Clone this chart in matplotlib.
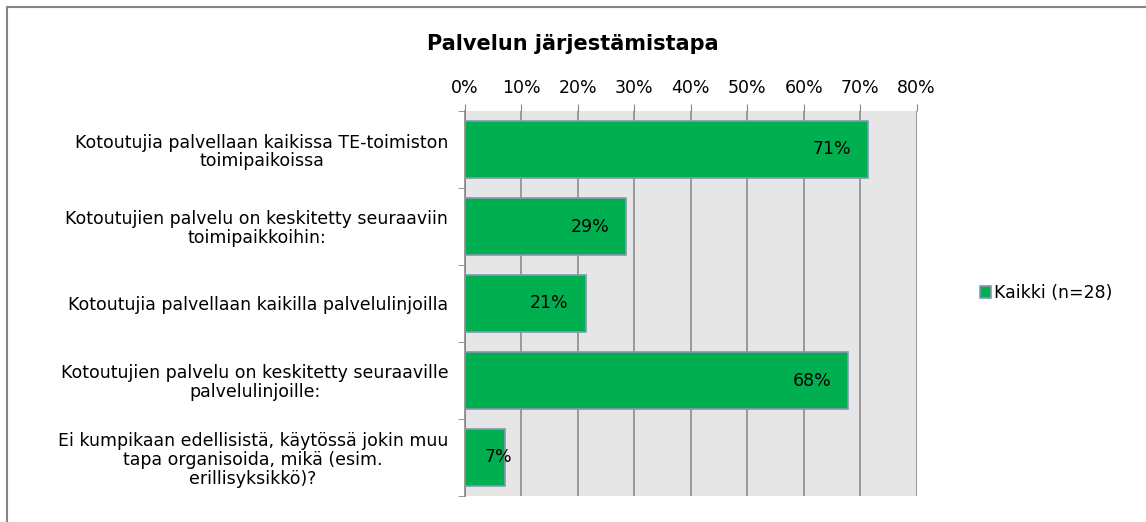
import matplotlib
matplotlib.use("Agg")
import matplotlib.pyplot as plt
from matplotlib.patches import Rectangle
from matplotlib.ticker import FixedLocator, FuncFormatter

plt.rcParams['font.family'] = ['DejaVu Sans']

categories = [
    "Kotoutujia palvellaan kaikissa TE-toimiston\ntoimipaikoissa",
    "Kotoutujien palvelu on keskitetty seuraaviin\ntoimipaikkoihin:",
    "Kotoutujia palvellaan kaikilla palvelulinjoilla",
    "Kotoutujien palvelu on keskitetty seuraaville\npalvelulinjoille:",
    "Ei kumpikaan edellisistä, käytössä jokin muu\ntapa organisoida, mikä (esim.\nerillisyksikkö)?",
]
values = [71.4, 28.6, 21.4, 67.9, 7.1]
value_labels = ["71%", "29%", "21%", "68%", "7%"]
series_name = "Kaikki (n=28)"
title = "Palvelun järjestämistapa"
xticks = [0, 10, 20, 30, 40, 50, 60, 70, 80]

FONT = "DejaVu Sans"
FS = 12.5

W, H = 1146, 522
fig = plt.figure(figsize=(W / 100, H / 100), dpi=100)

# outer chart border
fig.patches.append(Rectangle((7 / W, -0.1), 1.2, (H - 7) / H + 0.1, transform=fig.transFigure,
                             fill=False, edgecolor="#868686", linewidth=1.5))

ax = fig.add_axes([465 / W, 1 - 496 / H, (916.5 - 465) / W, (496 - 111) / H])
ax.set_facecolor("#e6e6e6")
n = len(categories)
ypos = list(range(n))
ax.barh(ypos, values, height=0.75, color="#00b050", edgecolor="#8497b0", linewidth=1.2, zorder=3)
ax.set_xlim(0, 80)
ax.set_ylim(n - 0.5, -0.5)

for y, v, lab in zip(ypos, values, value_labels):
    xr = v - 3.0 if v > 15 else v + 1.2
    ax.text(xr, y, lab, ha="right", va="center", fontsize=FS, family=FONT, color="black", zorder=4)

ax.xaxis.set_major_locator(FixedLocator(xticks))
ax.xaxis.set_major_formatter(FuncFormatter(lambda x, p: f"{int(round(x))}%"))
ax.xaxis.tick_top()
ax.tick_params(axis="x", top=True, bottom=False, length=5, color="#868686", labelsize=FS, pad=5)
for t in ax.get_xticklabels():
    t.set_family(FONT)
ax.grid(axis="x", color="#8c8c8c", linewidth=1.2, zorder=1)

ax.set_yticks(ypos)
ax.set_yticklabels(categories, multialignment="center", fontsize=FS, family=FONT, linespacing=1.05)
ax.yaxis.set_minor_locator(FixedLocator([i - 0.5 for i in range(n + 1)]))
ax.tick_params(axis="y", which="major", length=0, pad=12)
ax.tick_params(axis="y", which="minor", length=5, color="#868686")

for s in ["top", "right", "bottom"]:
    ax.spines[s].set_visible(False)
ax.spines["left"].set_color("#868686")
ax.spines["left"].set_linewidth(1.2)

fig.text(573 / W, 1 - 44 / H, title, ha="center", va="center", fontsize=15, fontweight="bold", family=FONT)

leg_handle = Rectangle((0, 0), 1, 1, facecolor="#00b050", edgecolor="#8497b0", linewidth=1.2)
fig.legend([leg_handle], [series_name], loc="center left", bbox_to_anchor=(964 / W, 1 - 293 / H),
           frameon=False, prop={"family": FONT, "size": FS}, handlelength=0.65, handleheight=0.65,
           handletextpad=0.15)

fig.savefig("out.png", dpi=100)
